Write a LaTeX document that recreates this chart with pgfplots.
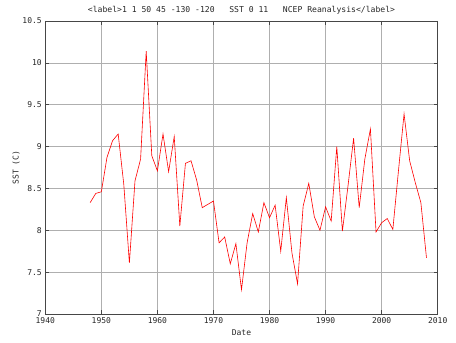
\documentclass[border=0pt]{standalone}
\usepackage{fontspec}
\setmainfont{DejaVu Sans Mono}
\usepackage{pgfplots}
\pgfplotsset{compat=1.18}
\definecolor{gridc}{RGB}{175,175,175}
\definecolor{framec}{RGB}{70,70,70}
\begin{document}
\begin{tikzpicture}[x=1pt,y=1pt]
\useasboundingbox (-45.3,-29) rectangle (410.7,314);
\begin{axis}[
  at={(0,0)}, anchor=south west,
  scale only axis, width=392.4pt, height=293pt,
  xmin=1940, xmax=2010, ymin=7, ymax=10.5,
  xtick={1940,1950,...,2010},
  ytick={7,7.5,...,10.5},
  grid=major,
  major grid style={gridc, line width=0.6pt},
  axis line style={framec, line width=0.8pt},
  tick style={framec, line width=0.6pt},
  major tick length=4pt,
  tick align=inside,
  every tick label/.append style={font=\fontsize{8}{9}\selectfont, text=black!85},
  /pgf/number format/assume math mode=true,
  /pgf/number format/1000 sep={},
  xlabel={Date},
  ylabel={SST (C)},
  label style={font=\fontsize{8}{9}\selectfont, text=black!85},
  xlabel style={yshift=1pt},
  ylabel style={yshift=-4pt},
  title={<label>1 1 50 45 -130 -120\ \ \ SST 0 11\ \ \ NCEP Reanalysis</label>},
  title style={font=\fontsize{8.1}{9}\selectfont, text=black!85, yshift=-3pt},
]
\addplot[red, line width=0.6pt, mark=none] coordinates {
(1948,8.33) (1949,8.44) (1950,8.46) (1951,8.87) (1952,9.07) (1953,9.15)
(1954,8.55) (1955,7.61) (1956,8.59) (1957,8.85) (1958,10.14) (1959,8.89)
(1960,8.71) (1961,9.15) (1962,8.70) (1963,9.12) (1964,8.05) (1965,8.80)
(1966,8.83) (1967,8.60) (1968,8.27) (1969,8.31) (1970,8.35) (1971,7.85)
(1972,7.92) (1973,7.60) (1974,7.84) (1975,7.29) (1976,7.85) (1977,8.20)
(1978,7.98) (1979,8.33) (1980,8.15) (1981,8.30) (1982,7.75) (1983,8.39)
(1984,7.73) (1985,7.36) (1986,8.29) (1987,8.56) (1988,8.16) (1989,8.00)
(1990,8.28) (1991,8.11) (1992,9.00) (1993,7.99) (1994,8.53) (1995,9.10)
(1996,8.27) (1997,8.85) (1998,9.21) (1999,7.98) (2000,8.09) (2001,8.14)
(2002,8.01) (2003,8.71) (2004,9.39) (2005,8.83) (2006,8.57) (2007,8.33)
(2008,7.67)
};
\end{axis}
\end{tikzpicture}
\end{document}
